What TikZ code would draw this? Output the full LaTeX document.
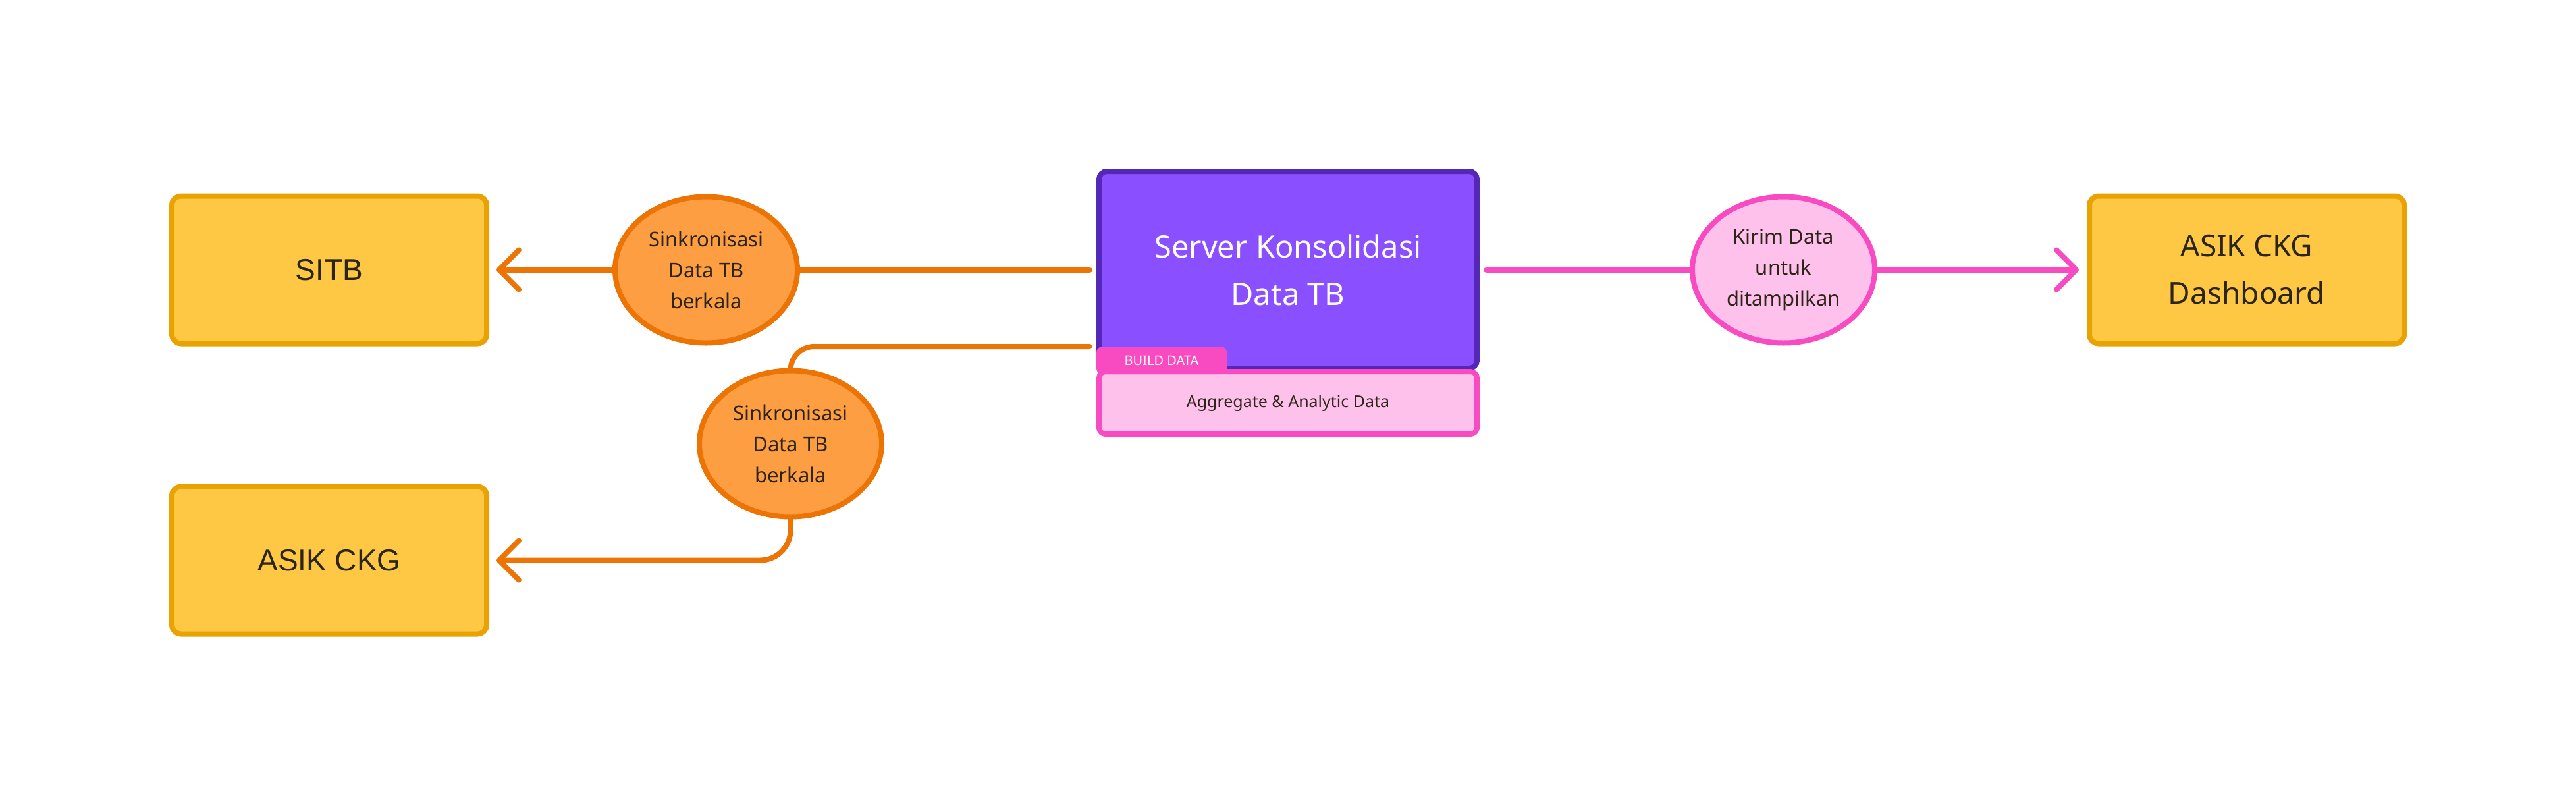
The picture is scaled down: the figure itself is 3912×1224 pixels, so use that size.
\documentclass[tikz,border=0pt]{standalone}
\usepackage{fontspec}
\setmainfont{Noto Sans}
\newfontfamily\boxfont{Liberation Sans}
\usetikzlibrary{positioning,shapes.geometric,arrows.meta}

\definecolor{sysfill}{HTML}{FEC845}
\definecolor{sysdraw}{HTML}{E8A303}
\definecolor{syncfill}{HTML}{FE9E43}
\definecolor{syncdraw}{HTML}{EC7404}
\definecolor{srvfill}{HTML}{8A4FFF}
\definecolor{srvdraw}{HTML}{5428B6}
\definecolor{pinkdraw}{HTML}{F84BC1}
\definecolor{pinkfill}{HTML}{FEC1EC}
\definecolor{txtdark}{HTML}{2C2416}

\tikzset{
	sysbox/.style={draw=sysdraw, fill=sysfill, line width=8pt, rounded corners=14pt,
		minimum width=478pt, minimum height=224pt, text=txtdark, align=center,
		font=\fontsize{46}{72}\selectfont},
	srvbox/.style={draw=srvdraw, fill=srvfill, line width=8pt, rounded corners=12pt,
		minimum width=574pt, minimum height=299pt, text=white, align=center,
		font=\fontsize{47}{72}\selectfont},
	aggbox/.style={draw=pinkdraw, fill=pinkfill, line width=8pt, rounded corners=10pt,
		minimum width=574pt, minimum height=95pt, text=txtdark,
		font=\fontsize{25}{30}\selectfont},
	tab/.style={fill=pinkdraw, rounded corners=9pt, minimum width=198pt, minimum height=42pt,
		inner sep=0pt, outer sep=0pt, text=white, font=\fontsize{20}{24}\selectfont},
	proc/.style={ellipse, line width=8pt, inner sep=0pt, minimum width=277pt,
		minimum height=222pt, text=txtdark, align=center, font=\fontsize{31}{47}\selectfont},
	sync/.style={proc, draw=syncdraw, fill=syncfill},
	kirim/.style={proc, draw=pinkdraw, fill=pinkfill},
	flow/.style={line width=8pt, line cap=round, line join=round},
	barb/.style={-{Straight Barb[length=30pt, width=60pt, round]}},
}

\begin{document}
\begin{tikzpicture}[x=1pt, y=-1pt]
	\useasboundingbox (0,0) rectangle (3912,1224);

	\node[srvbox] (server) at (1956,409.5) {Server Konsolidasi\\Data TB};
	\node[aggbox, below=-3pt of server] (agg) {Aggregate \& Analytic Data};
	\node[tab, anchor=south west] (build) at ([yshift=-8pt]agg.north west) {BUILD DATA};

	\node[sync, left=450pt of server] (sync1) {Sinkronisasi\\Data TB\\berkala};
	\node[sysbox, font=\boxfont\fontsize{46}{72}\selectfont, left=187pt of sync1] (sitb) {SITB};
	\node[sysbox, font=\boxfont\fontsize{46}{72}\selectfont, below=209pt of sitb] (asik) {ASIK CKG};
	\node[sync, below=34pt of sync1, xshift=128pt] (sync2) {Sinkronisasi\\Data TB\\berkala};

	\node[kirim, right=319pt of server] (kirimdata) {Kirim Data\\untuk\\ditampilkan};
	\node[sysbox, right=318pt of kirimdata] (dash) {ASIK CKG\\Dashboard};

	% sinkronisasi ke SITB
	\draw[flow, draw=syncdraw, shorten <=10pt] (server.west) -- (sync1.east);
	\draw[flow, draw=syncdraw, barb, shorten >=11pt] (sync1.west) -- (sitb.east);

	% sinkronisasi ke ASIK CKG
	\draw[flow, draw=syncdraw, rounded corners=36pt, shorten <=10pt] (server.west |- build.north) -| (sync2.north);
	\draw[flow, draw=syncdraw, barb, rounded corners=46pt, shorten >=11pt] (sync2.south) |- (asik.east);

	% kirim ke dashboard
	\draw[flow, draw=pinkdraw, shorten <=10pt] (server.east) -- (kirimdata.west);
	\draw[flow, draw=pinkdraw, barb, shorten >=12pt] (kirimdata.east) -- (dash.west);
\end{tikzpicture}
\end{document}
